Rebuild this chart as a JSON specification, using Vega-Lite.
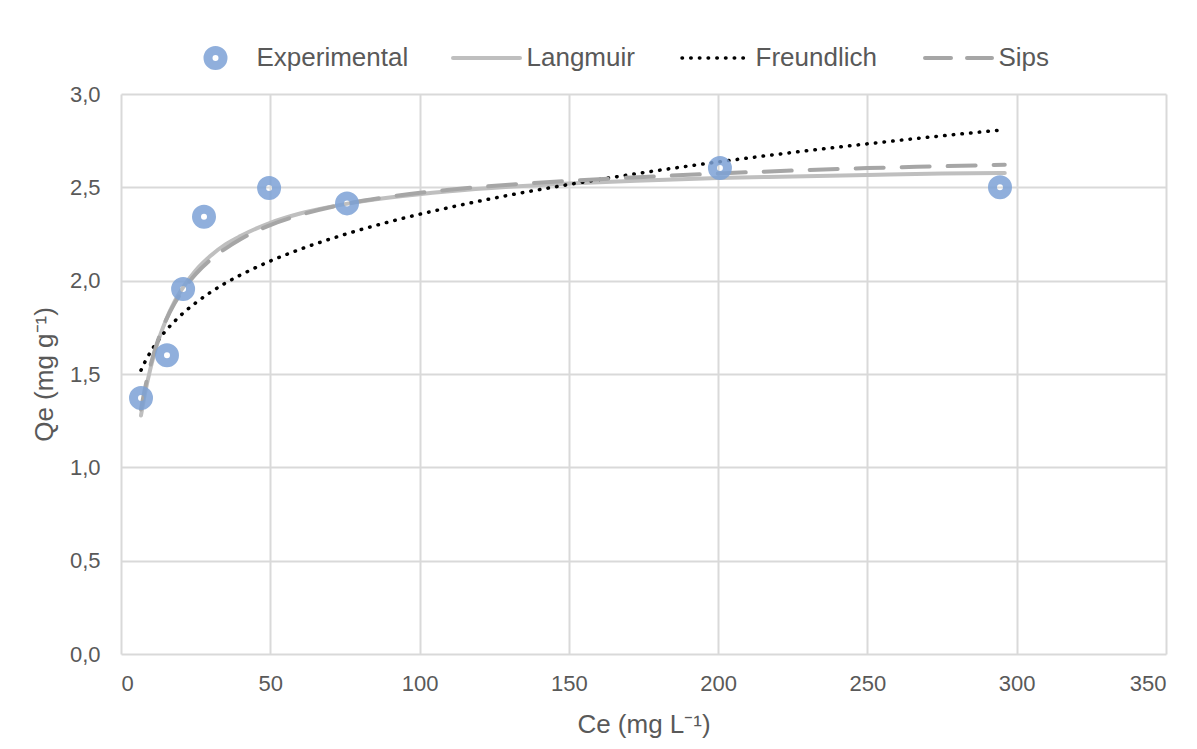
{
  "$schema": "https://vega.github.io/schema/vega-lite/v6.json",
  "autosize": {"type": "none"},
  "padding": {"left": 121, "top": 94, "right": 31, "bottom": 95},
  "width": 1045,
  "height": 560,
  "background": "white",
  "config": {
    "font": "Liberation Sans",
    "view": {"stroke": null},
    "axis": {
      "grid": true, "gridColor": "#d9d9d9", "gridWidth": 2,
      "domain": false, "ticks": false,
      "labelColor": "#595959", "labelFontSize": 22, "labelFont": "Liberation Sans",
      "titleColor": "#595959", "titleFontSize": 26, "titleFontWeight": "normal", "titleFont": "Liberation Sans"
    }
  },
  "data": {"values": [
    {"series": "Experimental", "Ce": 6.7, "Qe": 1.371},
    {"series": "Experimental", "Ce": 15.4, "Qe": 1.600},
    {"series": "Experimental", "Ce": 20.8, "Qe": 1.955},
    {"series": "Experimental", "Ce": 27.8, "Qe": 2.343},
    {"series": "Experimental", "Ce": 49.6, "Qe": 2.496},
    {"series": "Experimental", "Ce": 75.7, "Qe": 2.414},
    {"series": "Experimental", "Ce": 200.6, "Qe": 2.603},
    {"series": "Experimental", "Ce": 294.4, "Qe": 2.501},

    {"series": "Langmuir", "Ce": 6.7, "Qe": 1.278},
    {"series": "Langmuir", "Ce": 8, "Qe": 1.394},
    {"series": "Langmuir", "Ce": 10, "Qe": 1.539},
    {"series": "Langmuir", "Ce": 12, "Qe": 1.655},
    {"series": "Langmuir", "Ce": 15, "Qe": 1.787},
    {"series": "Langmuir", "Ce": 18, "Qe": 1.890},
    {"series": "Langmuir", "Ce": 21, "Qe": 1.969},
    {"series": "Langmuir", "Ce": 25, "Qe": 2.054},
    {"series": "Langmuir", "Ce": 30, "Qe": 2.133},
    {"series": "Langmuir", "Ce": 35, "Qe": 2.194},
    {"series": "Langmuir", "Ce": 40, "Qe": 2.239},
    {"series": "Langmuir", "Ce": 50, "Qe": 2.310},
    {"series": "Langmuir", "Ce": 60, "Qe": 2.360},
    {"series": "Langmuir", "Ce": 75, "Qe": 2.410},
    {"series": "Langmuir", "Ce": 90, "Qe": 2.445},
    {"series": "Langmuir", "Ce": 110, "Qe": 2.479},
    {"series": "Langmuir", "Ce": 130, "Qe": 2.503},
    {"series": "Langmuir", "Ce": 150, "Qe": 2.521},
    {"series": "Langmuir", "Ce": 175, "Qe": 2.537},
    {"series": "Langmuir", "Ce": 200, "Qe": 2.550},
    {"series": "Langmuir", "Ce": 225, "Qe": 2.558},
    {"series": "Langmuir", "Ce": 250, "Qe": 2.566},
    {"series": "Langmuir", "Ce": 275, "Qe": 2.574},
    {"series": "Langmuir", "Ce": 296, "Qe": 2.577},

    {"series": "Freundlich", "Ce": 6.7, "Qe": 1.520},
    {"series": "Freundlich", "Ce": 8, "Qe": 1.564},
    {"series": "Freundlich", "Ce": 10, "Qe": 1.621},
    {"series": "Freundlich", "Ce": 12, "Qe": 1.670},
    {"series": "Freundlich", "Ce": 15, "Qe": 1.732},
    {"series": "Freundlich", "Ce": 18, "Qe": 1.783},
    {"series": "Freundlich", "Ce": 21, "Qe": 1.829},
    {"series": "Freundlich", "Ce": 25, "Qe": 1.881},
    {"series": "Freundlich", "Ce": 30, "Qe": 1.938},
    {"series": "Freundlich", "Ce": 35, "Qe": 1.987},
    {"series": "Freundlich", "Ce": 40, "Qe": 2.030},
    {"series": "Freundlich", "Ce": 50, "Qe": 2.105},
    {"series": "Freundlich", "Ce": 60, "Qe": 2.168},
    {"series": "Freundlich", "Ce": 75, "Qe": 2.248},
    {"series": "Freundlich", "Ce": 90, "Qe": 2.316},
    {"series": "Freundlich", "Ce": 110, "Qe": 2.392},
    {"series": "Freundlich", "Ce": 130, "Qe": 2.458},
    {"series": "Freundlich", "Ce": 150, "Qe": 2.515},
    {"series": "Freundlich", "Ce": 175, "Qe": 2.579},
    {"series": "Freundlich", "Ce": 200, "Qe": 2.636},
    {"series": "Freundlich", "Ce": 225, "Qe": 2.687},
    {"series": "Freundlich", "Ce": 250, "Qe": 2.733},
    {"series": "Freundlich", "Ce": 275, "Qe": 2.776},
    {"series": "Freundlich", "Ce": 296, "Qe": 2.809},

    {"series": "Sips", "Ce": 6.7, "Qe": 1.310},
    {"series": "Sips", "Ce": 8, "Qe": 1.420},
    {"series": "Sips", "Ce": 10, "Qe": 1.555},
    {"series": "Sips", "Ce": 12, "Qe": 1.662},
    {"series": "Sips", "Ce": 15, "Qe": 1.786},
    {"series": "Sips", "Ce": 18, "Qe": 1.880},
    {"series": "Sips", "Ce": 21, "Qe": 1.955},
    {"series": "Sips", "Ce": 25, "Qe": 2.035},
    {"series": "Sips", "Ce": 30, "Qe": 2.112},
    {"series": "Sips", "Ce": 35, "Qe": 2.172},
    {"series": "Sips", "Ce": 40, "Qe": 2.222},
    {"series": "Sips", "Ce": 50, "Qe": 2.298},
    {"series": "Sips", "Ce": 60, "Qe": 2.352},
    {"series": "Sips", "Ce": 75, "Qe": 2.410},
    {"series": "Sips", "Ce": 90, "Qe": 2.450},
    {"series": "Sips", "Ce": 110, "Qe": 2.487},
    {"series": "Sips", "Ce": 130, "Qe": 2.514},
    {"series": "Sips", "Ce": 150, "Qe": 2.535},
    {"series": "Sips", "Ce": 175, "Qe": 2.556},
    {"series": "Sips", "Ce": 200, "Qe": 2.574},
    {"series": "Sips", "Ce": 225, "Qe": 2.590},
    {"series": "Sips", "Ce": 250, "Qe": 2.603},
    {"series": "Sips", "Ce": 275, "Qe": 2.613},
    {"series": "Sips", "Ce": 296, "Qe": 2.621}
  ]},
  "encoding": {
    "x": {
      "field": "Ce", "type": "quantitative",
      "scale": {"domain": [0, 350], "nice": false, "zero": false},
      "axis": {"values": [0, 50, 100, 150, 200, 250, 300, 350], "title": "Ce (mg L⁻¹)", "labelPadding": 19, "titlePadding": 17}
    },
    "y": {
      "field": "Qe", "type": "quantitative",
      "scale": {"domain": [0, 3], "nice": false, "zero": false},
      "axis": {"values": [0, 0.5, 1, 1.5, 2, 2.5, 3], "labelExpr": "replace(format(datum.value, '.1f'), '.', ',')", "title": "Qe (mg g⁻¹)", "labelPadding": 21, "titlePadding": 12}
    }
  },
  "resolve": {"scale": {"color": "independent"}, "legend": {"color": "independent"}},
  "layer": [
    {
      "transform": [{"filter": "datum.series !== 'Experimental'"}],
      "encoding": {
        "color": {
          "field": "series", "type": "nominal",
          "scale": {"domain": ["Langmuir", "Freundlich", "Sips"], "range": ["#bfbfbf", "#000000", "#a6a6a6"]},
          "legend": {
            "orient": "none", "legendX": 332, "legendY": -49,
            "direction": "horizontal", "columns": 3, "columnPadding": 40,
            "title": null,
            "labelFontSize": 26, "labelColor": "#595959", "labelFont": "Liberation Sans",
            "symbolType": "stroke", "symbolSize": 4489, "symbolStrokeWidth": 4,
            "encode": {
              "symbols": {
                "update": {
                  "x": {"value": 33.5},
                  "y": {"value": 13},
                  "shape": {"value": "stroke"},
                  "size": {"value": 4489},
                  "strokeWidth": {"signal": "datum.value === 'Freundlich' ? 3.5 : 4"},
                  "strokeDash": {"signal": "datum.value === 'Freundlich' ? [0.5, 8.2] : (datum.value === 'Sips' ? [26, 16] : [1, 0])"},
                  "strokeCap": {"value": "round"},
                  "stroke": {"signal": "datum.value === 'Freundlich' ? '#000000' : (datum.value === 'Sips' ? '#a6a6a6' : '#bfbfbf')"}
                }
              },
              "labels": {
                "update": {
                  "x": {"value": 73.5},
                  "y": {"value": 13},
                  "baseline": {"value": "middle"},
                  "align": {"value": "left"}
                }
              }
            }
          }
        }
      },
      "layer": [
        {
          "transform": [{"filter": "datum.series === 'Langmuir'"}],
          "mark": {"type": "line", "strokeWidth": 4, "interpolate": "monotone", "strokeCap": "round"}
        },
        {
          "transform": [{"filter": "datum.series === 'Freundlich'"}],
          "mark": {"type": "line", "strokeWidth": 3.5, "interpolate": "monotone", "strokeDash": [0.5, 8.2], "strokeCap": "round"}
        },
        {
          "transform": [{"filter": "datum.series === 'Sips'"}],
          "mark": {"type": "line", "strokeWidth": 4, "interpolate": "monotone", "strokeDash": [28, 18], "strokeCap": "round"}
        }
      ]
    },
    {
      "transform": [{"filter": "datum.series === 'Experimental'"}],
      "mark": {"type": "point", "shape": "circle", "filled": false, "size": 225, "strokeWidth": 9, "opacity": 0.85},
      "encoding": {
        "color": {
          "field": "series", "type": "nominal",
          "scale": {"domain": ["Experimental"], "range": ["#7da2d6"]},
          "legend": {
            "orient": "none", "legendX": 81.5, "legendY": -49,
            "title": null,
            "labelFontSize": 26, "labelColor": "#595959", "labelFont": "Liberation Sans",
            "labelOffset": 28,
            "symbolType": "circle", "symbolSize": 225, "symbolStrokeWidth": 9,
            "encode": {
              "symbols": {
                "update": {
                  "shape": {"value": "circle"},
                  "size": {"value": 225},
                  "strokeWidth": {"value": 9},
                  "fill": {"value": "transparent"},
                  "stroke": {"value": "#7da2d6"},
                  "opacity": {"value": 0.85}
                }
              }
            }
          }
        }
      }
    }
  ]
}
